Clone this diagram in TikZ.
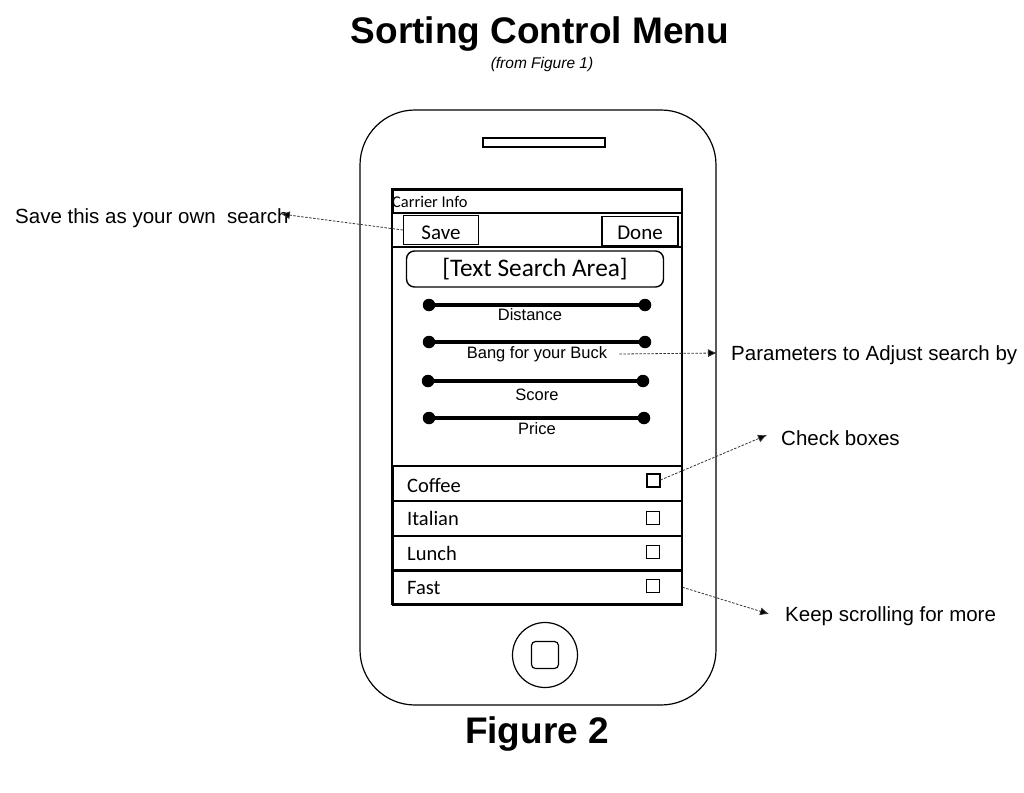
\documentclass[tikz,border=0pt]{standalone}
\usepackage{fontspec}
\setmainfont{Liberation Sans}
\newfontfamily\calfont{Carlito}
\usetikzlibrary{arrows.meta}

\begin{document}
\begin{tikzpicture}[x=1pt,y=-1pt,
  lbl/.style={inner sep=0pt, font=\fontsize{20.5}{24}\selectfont},
  knob/.style={circle, fill, inner sep=0pt, minimum size=12.5pt},
  slider/.style={line width=3.5pt},
  sliderlbl/.style={inner sep=0pt, font=\fontsize{16.5}{19}\selectfont},
  btn/.style={draw, line width=1.4pt, inner sep=0pt, minimum width=75pt, minimum height=29pt, font=\calfont\fontsize{21}{24}\selectfont},
  row/.style={draw, line width=1.5pt, anchor=north west, minimum width=289pt, minimum height=35pt, inner sep=0pt},
  rowtxt/.style={anchor=west, inner sep=0pt, font=\calfont\fontsize{20.5}{24}\selectfont},
  chk/.style={draw, minimum size=13pt, inner sep=0pt},
  note/.style={draw=black!80, line width=0.8pt, dash pattern=on 2.5pt off 1.5pt, -{Latex[length=9pt,width=8pt,fill=black]}}]
\useasboundingbox (0,0) rectangle (1024,792);

% titles
\node (title) at (540,34) {\fontsize{37}{40}\selectfont\bfseries Sorting Control Menu};
\node (sub) at (542,64) {\fontsize{15.5}{18}\selectfont\itshape (from Figure 1)};
\node (fig) at (537,734) {\fontsize{37}{40}\selectfont\bfseries Figure 2};

% phone body
\draw[line width=1.2pt, rounded corners=55pt] (360,110) rectangle (716,705);
\draw[line width=1.5pt] (483,138) rectangle (605,147);
\node[draw, circle, line width=1.2pt, minimum size=65pt, inner sep=0pt] (home) at (545,655) {};
\node[draw, line width=1.2pt, rounded corners=4pt, minimum size=27pt, inner sep=0pt] (homekey) at (home) {};

% screen
\draw[line width=1.5pt] (392,189) rectangle (682,604);
\node[draw, line width=2pt, anchor=north west, minimum width=289pt, minimum height=23pt, inner sep=0pt] (carrier) at (392,189) {};
\node[anchor=west, inner sep=0pt, font=\calfont\fontsize{16.4}{19}\selectfont] (carriertxt) at (392,202) {Carrier Info};
\draw[line width=1.5pt] (392,247) -- (682,247);
\node[btn] (save) at (441,230) {\raisebox{-2.5pt}[\height][\depth]{Save}};
\node[btn, minimum width=76pt] (done) at (640,231) {\raisebox{-2pt}[\height][\depth]{Done}};
\node[draw, line width=1.4pt, rounded corners=8pt, minimum width=257pt, minimum height=36pt, inner sep=0pt, font=\calfont\fontsize{25.3}{28}\selectfont] (search) at (535,269) {[Text Search Area]};

% sliders
\foreach \nm/\yy/\xa/\xb/\ly/\lx/\txt in {dist/305/429/645/315/530/Distance, bang/342/429/645/354/537/Bang for your Buck, score/381/428/643/395/537/Score, price/418/429/644/429/537/Price}{
  \node[knob] (\nm-a) at (\xa,\yy) {};
  \node[knob] (\nm-b) at (\xb,\yy) {};
  \draw[slider] (\nm-a) -- (\nm-b);
  \node[sliderlbl] (\nm-l) at (\lx,\ly) {\txt};
}

% list rows
\foreach \nm/\yy/\ty/\cy/\lw/\txt in {coffee/465/485/480/2/Coffee, italian/500/518/518/1/Italian, lunch/535/553/552/1/Lunch, fast/569/588/586/1/Fast}{
  \node[row] (\nm) at (392,\yy) {};
  \node[rowtxt] (\nm-t) at (407,\ty) {\txt};
  \node[chk, line width=\lw pt] (\nm-c) at (653,\cy) {};
}

% notes
\node[lbl, anchor=west] (savenote) at (15,218) {Save this as your own\ \ search};
\node[lbl, anchor=west] (paramnote) at (731,355) {Parameters to Adjust search by};
\node[lbl, anchor=west] (checknote) at (781,438) {Check boxes};
\node[lbl, anchor=west] (morenote) at (785,616) {Keep scrolling for more};

\draw[note] (save.west) -- ([xshift=-8pt,yshift=4pt]savenote.east);
\draw[note] ([xshift=12pt]bang-l.east) -- ([xshift=-14pt,yshift=2pt]paramnote.west);
\draw[note] (coffee-c.east) -- ([xshift=-14pt,yshift=3pt]checknote.west);
\draw[note] (fast.east) -- ([xshift=-16pt,yshift=2pt]morenote.west);
\end{tikzpicture}
\end{document}
